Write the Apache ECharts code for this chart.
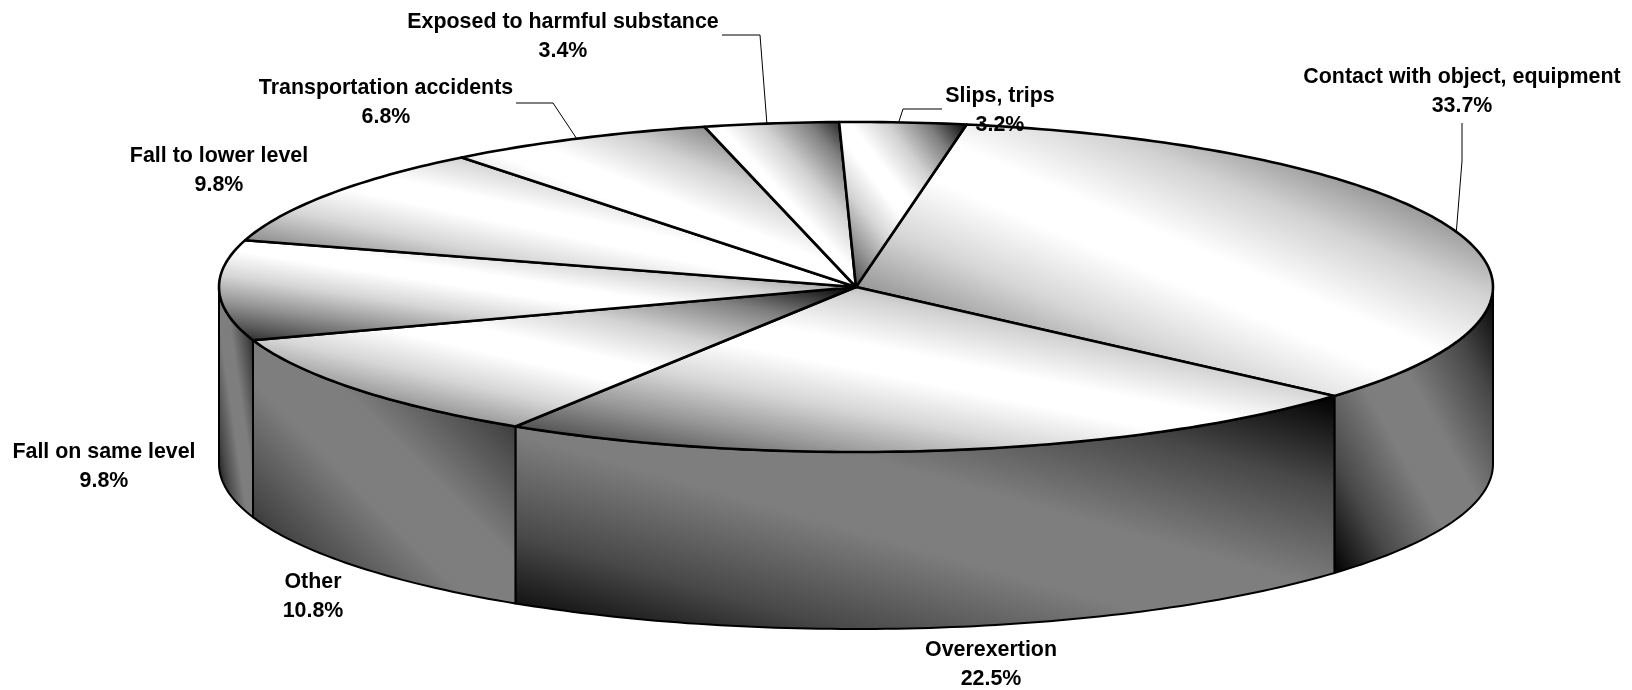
<!DOCTYPE html>
<html>
<head>
<meta charset="utf-8">
<style>html,body{margin:0;padding:0;background:#fff}#c{width:1632px;height:690px}</style>
<script src="https://cdn.jsdelivr.net/npm/echarts@6/dist/echarts.min.js"></script>
</head>
<body>
<div id="c"></div>
<script>
var categories = ['Contact with object, equipment','Overexertion','Other','Fall on same level','Fall to lower level','Transportation accidents','Exposed to harmful substance','Slips, trips'];
var shares = [33.7,22.5,10.8,9.8,9.8,6.8,3.4,3.2];

// layout, kept apart from the data
var labelCenters = [[1462,77],[991,650],[313,582],[104,452],[219,156],[386,88],[563,22],[1000,96]];
var labelStep = 29;
var leaderPaths = [[[1462,123],[1462,161]],null,null,null,null,[[516,103],[553,103]],[[722,35],[760,35]],[[942,109],[903,109]]];
var leaderShiftDeg = [0.2,0,0,0,0,0,0.4,0.4];
var pie = {cx:856, cy:287, rx:637, ry:165, depth:177, startDeg:-80};
var topStops = [[0,'#222222'],[0.1,'#606060'],[0.2,'#969696'],[0.33,'#d6d6d6'],[0.46,'#ffffff'],[0.54,'#ffffff'],[0.68,'#d2d2d2'],[0.84,'#7e7e7e'],[1,'#000000']];
var sideStops = [[0,'#000000'],[0.2,'#484848'],[0.42,'#7e7e7e'],[0.58,'#7e7e7e'],[0.8,'#484848'],[1,'#000000']];
var fontSpec = 'bold 21.4px "Liberation Sans", Arial, sans-serif';

var total = shares.reduce(function(a,b){return a+b;},0);
function rad(d){return d*Math.PI/180;}
function pt(deg,dy){return [pie.cx+pie.rx*Math.cos(rad(deg)), pie.cy+pie.ry*Math.sin(rad(deg))+(dy||0)];}
function arc(a,b,dy){var n=Math.max(2,Math.ceil(Math.abs(b-a))),out=[];for(var i=0;i<=n;i++){out.push(pt(a+(b-a)*i/n,dy));}return out;}
function diag(points,stops){
  var x0=1e9,x1=-1e9,y0=1e9,y1=-1e9;
  points.forEach(function(p){x0=Math.min(x0,p[0]);x1=Math.max(x1,p[0]);y0=Math.min(y0,p[1]);y1=Math.max(y1,p[1]);});
  var w=x1-x0,h=y1-y0,len=Math.sqrt(w*w+h*h),nx=h/len,ny=-w/len,L=w*h/len,mx=(x0+x1)/2,my=(y0+y1)/2;
  return {type:'linear',global:true,x:mx-nx*L,y:my-ny*L,x2:mx+nx*L,y2:my+ny*L,
    colorStops:stops.map(function(s){return {offset:s[0],color:s[1]};})};
}
function startAngleOf(i){var s=0;for(var k=0;k<i;k++){s+=shares[k];}return pie.startDeg+s/total*360;}

function renderItem(params,api){
  var i=params.dataIndex, val=api.value(1);
  var a=startAngleOf(i), b=a+val/total*360, kids=[];
  var sa=Math.max(a,0), sb=Math.min(b,180);
  if(sb>sa){
    var wall=arc(sa,sb,0).concat(arc(sb,sa,pie.depth));
    kids.push({type:'polygon',z2:1,shape:{points:wall},style:{fill:diag(wall,sideStops),stroke:'#000',lineWidth:2,lineJoin:'round'}});
  }
  var wedge=[[pie.cx,pie.cy]].concat(arc(a,b,0));
  kids.push({type:'polygon',z2:2,shape:{points:wedge},style:{fill:diag(wedge,topStops),stroke:'#000',lineWidth:2.6,lineJoin:'round'}});
  var leader=leaderPaths[i];
  if(leader){
    kids.push({type:'polyline',z2:3,shape:{points:leader.concat([pt((a+b)/2-leaderShiftDeg[i],0)])},style:{fill:null,stroke:'#000',lineWidth:1}});
  }
  var c=labelCenters[i];
  kids.push({type:'text',z2:5,style:{text:categories[i],x:c[0],y:c[1],align:'center',verticalAlign:'middle',font:fontSpec,fill:'#000'}});
  kids.push({type:'text',z2:5,style:{text:val.toFixed(1)+'%',x:c[0],y:c[1]+labelStep,align:'center',verticalAlign:'middle',font:fontSpec,fill:'#000'}});
  return {type:'group',children:kids};
}

var chart=echarts.init(document.getElementById('c'),null,{width:1632,height:690});
chart.setOption({
  animation:false,
  backgroundColor:'#ffffff',
  series:[{
    type:'custom',
    coordinateSystem:'none',
    renderItem:renderItem,
    encode:{itemName:0,value:1},
    data:categories.map(function(n,i){return [n,shares[i]];})
  }]
});
</script>
</body>
</html>
